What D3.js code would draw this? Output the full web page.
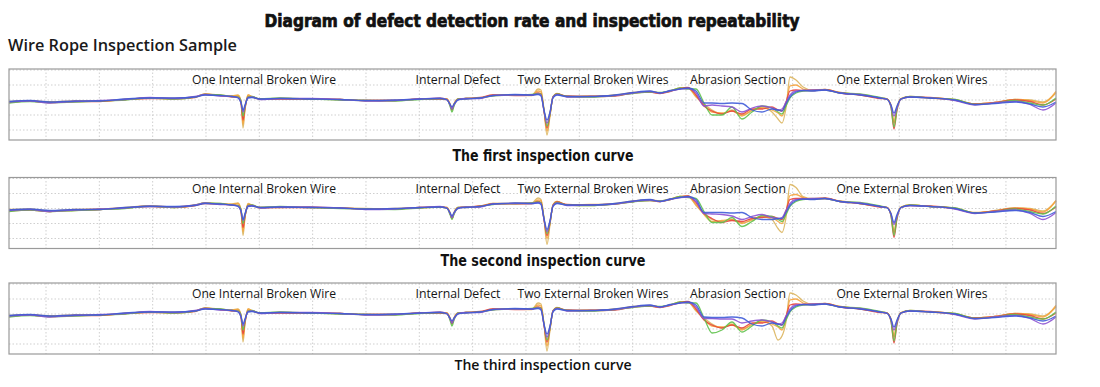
<!DOCTYPE html>
<html>
<head>
<meta charset="utf-8">
<script src="https://cdn.jsdelivr.net/npm/d3@7"></script>
<style>
  body { margin: 0; background: #fff; }
  svg { display: block; }
  .grid line { stroke: #cfcfcf; stroke-width: 1; stroke-dasharray: 1.5,2; }
  .frame { fill: none; stroke: #9a9a9a; stroke-width: 1.2; }
  .curve { fill: none; stroke-width: 1.3; stroke-linejoin: round; stroke-opacity: 0.9; }
  .defect { font-family: "Open Sans", sans-serif; font-size: 13.5px; font-weight: 500; fill: #151515; }
</style>
</head>
<body>
<svg></svg>
<script>

// DATA

// sample positions along the rope (same for every run)
let positions = [
  0, 21, 41, 66, 91, 116, 141, 166, 186, 196,
  211, 223, 229, 232, 234, 236, 239, 243, 251, 271,
  301, 331, 356, 386, 411, 431, 438, 441, 443, 445,
  449, 457, 471, 484, 506, 523, 529, 532, 535, 538,
  541, 544, 548, 558, 581, 606, 624, 641, 651, 661,
  671, 679, 687, 695, 703, 713, 723, 733, 743, 753,
  763, 769, 773, 777, 781, 787, 794, 803, 816, 831,
  851, 871, 878, 882, 885, 888, 892, 901, 921, 946,
  966, 986, 1006, 1021, 1034, 1047
];

// sensor channels, drawn in this order (last one on top)
let channelNames = ["tan", "orange", "red", "green", "purple", "blue"];
let channelColors = ["#dcb55e", "#f5a33c", "#e8423c", "#5fc24c", "#8c52d2", "#3f5cd8"];

let defectNames = ["One Internal Broken Wire", "Internal Defect", "Two External Broken Wires", "Abrasion Section", "One External Broken Wires"];
let defectCenters = [255, 449, 584, 729, 903];
let defectWidths = [144, 85, 151, 96, 151];

let runNames = ["The first inspection curve", "The second inspection curve", "The third inspection curve"];

let yTicks = [-3, -1.5, 0, 1.5, 3];

// first inspection, one row per channel (tan, orange, red, green, purple, blue)
let firstRun = [
  [-0.15,-0.1,-0.25,-0.15,-0.1,0.05,0.2,0.15,0.3,0.6,
   0.5,0.4,0.5,-0.1,-2.8,-1.0,0.5,0.3,0.1,0.15,
   0.1,0.05,-0.05,-0.05,0.1,0.15,0.1,-0.4,-0.9,-0.4,
   0.1,0.15,0.2,0.45,0.5,0.5,1.1,1.0,-1.0,-3.5,
   -1.6,0.35,0.6,0.35,0.35,0.5,0.7,0.85,0.7,0.9,
   1.15,1.2,0.3,-0.4,-1.0,-1.4,-1.0,-1.5,-1.1,-0.7,
   -1.2,-1.9,-2.3,-0.8,2.3,2.0,1.3,1.0,1.05,0.75,
   0.55,0.2,0.1,-0.5,-2.1,-0.7,0.15,0.3,0.2,0.05,
   -0.4,-0.25,0.05,0.0,-0.2,0.7],
  [-0.2,-0.1,-0.2,-0.1,-0.1,0.05,0.2,0.1,0.3,0.6,
   0.45,0.4,0.45,-0.2,-2.4,-0.8,0.5,0.35,0.1,0.15,
   0.1,0.05,-0.05,-0.05,0.1,0.15,0.1,-0.4,-1.0,-0.4,
   0.1,0.15,0.2,0.5,0.5,0.45,0.9,0.8,-1.0,-3.1,
   -1.5,0.3,0.65,0.35,0.4,0.45,0.75,0.8,0.7,0.9,
   1.2,1.2,0.4,-0.5,-1.2,-1.3,-1.1,-1.6,-1.0,-0.8,
   -1.0,-1.3,-1.6,-0.5,1.4,1.5,1.1,0.95,1.0,0.75,
   0.5,0.2,0.1,-0.5,-2.3,-0.8,0.15,0.35,0.2,0.0,
   -0.4,-0.25,0.05,-0.05,-0.3,0.85],
  [-0.25,-0.1,-0.25,-0.15,-0.15,0.05,0.15,0.15,0.25,0.55,
   0.45,0.3,0.3,-0.3,-2.0,-0.8,0.3,0.3,0.1,0.1,
   0.1,0.05,-0.05,-0.05,0.1,0.1,0.05,-0.5,-1.0,-0.5,
   0.05,0.15,0.25,0.5,0.45,0.5,0.7,0.6,-1.1,-2.8,
   -1.4,0.3,0.6,0.4,0.35,0.4,0.7,0.8,0.65,0.85,
   1.15,1.25,0.5,-0.6,-1.1,-1.4,-1.1,-1.4,-0.9,-0.9,
   -0.7,-1.0,-1.1,-0.2,0.9,1.0,0.95,0.95,1.05,0.7,
   0.5,0.15,0.1,-0.7,-2.9,-1.0,0.1,0.3,0.25,0.0,
   -0.4,-0.25,0.0,-0.15,-0.5,0.1],
  [-0.3,-0.15,-0.25,-0.2,-0.1,0.0,0.2,0.1,0.3,0.55,
   0.5,0.35,0.3,-0.1,-1.6,-0.7,0.3,0.35,0.1,0.2,
   0.1,0.0,-0.05,-0.1,0.05,0.15,0.05,-0.6,-1.2,-0.6,
   0.1,0.15,0.2,0.4,0.5,0.55,0.65,0.6,-1.0,-2.6,
   -1.4,0.3,0.6,0.35,0.3,0.45,0.65,0.8,0.75,0.9,
   1.2,1.1,1.1,-0.3,-1.5,-1.5,-0.7,-1.9,-1.2,-0.6,
   -0.8,-1.2,-1.4,-0.6,0.2,0.7,0.9,0.95,1.0,0.7,
   0.6,0.25,0.1,-0.7,-2.7,-0.9,0.1,0.35,0.2,0.05,
   -0.45,-0.3,-0.05,-0.3,-0.5,0.2],
  [-0.2,-0.1,-0.3,-0.15,-0.05,0.05,0.25,0.15,0.35,0.55,
   0.4,0.35,0.25,-0.2,-1.2,-0.6,0.25,0.3,0.05,0.15,
   0.15,0.05,-0.1,-0.05,0.1,0.2,0.05,-0.5,-0.9,-0.5,
   0.05,0.15,0.15,0.45,0.5,0.5,0.6,0.5,-1.1,-2.3,
   -1.3,0.3,0.55,0.3,0.35,0.45,0.7,0.85,0.7,0.9,
   1.1,1.15,0.7,-0.6,-0.5,-0.6,-0.7,-1.2,-0.8,-0.6,
   -0.8,-1.0,-0.9,-0.2,0.5,0.9,0.95,1.0,1.0,0.7,
   0.55,0.2,0.1,-0.6,-1.6,-0.8,0.1,0.3,0.2,-0.05,
   -0.5,-0.3,-0.15,-0.45,-1.0,-0.3],
  [-0.15,-0.05,-0.2,-0.1,-0.1,0.1,0.2,0.2,0.3,0.5,
   0.45,0.35,0.2,-0.3,-1.0,-0.5,0.2,0.25,0.1,0.15,
   0.1,0.05,-0.05,0.0,0.1,0.15,0.0,-0.4,-0.7,-0.4,
   0.0,0.1,0.2,0.45,0.55,0.5,0.55,0.4,-1.0,-2.0,
   -1.2,0.2,0.5,0.35,0.35,0.5,0.75,0.9,0.7,0.95,
   1.1,1.2,0.9,-0.3,-0.3,-0.35,-0.3,-0.35,-1.0,-1.2,
   -0.9,-1.0,-1.1,-0.4,0.3,0.8,0.95,0.9,1.0,0.7,
   0.5,0.2,0.05,-0.5,-1.3,-0.6,0.1,0.3,0.2,0.0,
   -0.45,-0.35,-0.2,-0.4,-0.7,-0.2]
];

let secondRun = [
  [-0.1,-0.05,-0.3,-0.2,-0.1,0.1,0.25,0.15,0.35,0.55,
   0.5,0.45,0.55,-0.1,-2.7,-0.9,0.5,0.3,0.05,0.1,
   0.15,0.05,0.0,-0.05,0.05,0.15,0.1,-0.4,-1.0,-0.4,
   0.1,0.1,0.25,0.5,0.45,0.55,1.05,0.9,-1.0,-3.6,
   -1.6,0.4,0.7,0.35,0.3,0.5,0.75,0.85,0.75,0.95,
   1.2,1.25,0.3,-0.5,-1.1,-1.3,-1.1,-1.4,-1.2,-0.8,
   -1.1,-2.0,-2.4,-0.9,2.4,2.1,1.2,1.0,1.0,0.7,
   0.5,0.2,0.1,-0.5,-2.2,-0.8,0.15,0.35,0.2,0.05,
   -0.45,-0.2,0.05,0.0,-0.25,0.75],
  [-0.2,-0.1,-0.25,-0.1,-0.05,0.05,0.25,0.1,0.3,0.55,
   0.45,0.4,0.5,-0.2,-2.3,-0.8,0.45,0.35,0.1,0.15,
   0.1,0.05,-0.05,0.0,0.1,0.15,0.1,-0.45,-1.05,-0.45,
   0.1,0.15,0.2,0.5,0.5,0.5,0.85,0.8,-1.0,-3.0,
   -1.5,0.35,0.7,0.35,0.4,0.45,0.7,0.85,0.7,0.9,
   1.2,1.2,0.4,-0.6,-1.3,-1.2,-1.1,-1.5,-1.1,-0.8,
   -0.9,-1.3,-1.5,-0.4,1.3,1.4,1.1,0.95,1.0,0.75,
   0.5,0.2,0.1,-0.55,-2.4,-0.85,0.15,0.35,0.2,0.0,
   -0.4,-0.25,0.05,-0.05,-0.35,0.8],
  [-0.25,-0.15,-0.3,-0.15,-0.1,0.05,0.2,0.15,0.3,0.5,
   0.45,0.35,0.3,-0.3,-1.9,-0.8,0.3,0.3,0.1,0.1,
   0.1,0.05,-0.05,-0.05,0.1,0.15,0.05,-0.5,-1.0,-0.5,
   0.05,0.15,0.25,0.45,0.5,0.5,0.7,0.6,-1.1,-2.7,
   -1.4,0.3,0.65,0.4,0.35,0.45,0.7,0.8,0.7,0.9,
   1.15,1.25,0.6,-0.5,-1.0,-1.4,-1.2,-1.3,-1.0,-0.9,
   -0.8,-1.0,-1.1,-0.2,0.9,1.0,1.0,0.95,1.05,0.7,
   0.5,0.15,0.1,-0.7,-2.9,-1.0,0.1,0.3,0.25,0.0,
   -0.45,-0.25,0.0,-0.15,-0.5,0.15],
  [-0.3,-0.15,-0.3,-0.2,-0.1,0.0,0.25,0.1,0.35,0.55,
   0.5,0.35,0.3,-0.1,-1.5,-0.7,0.3,0.35,0.1,0.2,
   0.1,0.0,-0.05,-0.1,0.05,0.15,0.05,-0.6,-1.1,-0.6,
   0.1,0.15,0.2,0.4,0.5,0.55,0.65,0.6,-1.0,-2.5,
   -1.4,0.3,0.6,0.35,0.3,0.45,0.65,0.8,0.75,0.9,
   1.2,1.1,1.0,-0.3,-1.4,-1.4,-0.9,-1.8,-1.3,-0.7,
   -0.8,-1.1,-1.3,-0.6,0.2,0.7,0.9,0.95,1.0,0.7,
   0.6,0.25,0.1,-0.7,-2.7,-0.9,0.1,0.35,0.2,0.05,
   -0.45,-0.3,-0.05,-0.3,-0.55,0.25],
  [-0.2,-0.1,-0.3,-0.15,-0.05,0.05,0.25,0.15,0.35,0.55,
   0.4,0.35,0.25,-0.2,-1.2,-0.6,0.25,0.3,0.05,0.15,
   0.15,0.05,-0.1,-0.05,0.1,0.2,0.05,-0.5,-0.9,-0.5,
   0.05,0.15,0.15,0.45,0.5,0.5,0.6,0.5,-1.1,-2.3,
   -1.3,0.3,0.55,0.3,0.35,0.45,0.7,0.85,0.7,0.9,
   1.1,1.15,0.7,-0.5,-0.55,-0.6,-0.75,-1.1,-0.8,-0.6,
   -0.9,-1.0,-0.9,-0.2,0.5,0.9,0.95,1.0,1.0,0.7,
   0.55,0.2,0.1,-0.6,-1.6,-0.8,0.1,0.3,0.2,-0.05,
   -0.5,-0.3,-0.15,-0.5,-1.1,-0.4],
  [-0.15,-0.05,-0.2,-0.1,-0.1,0.1,0.2,0.2,0.3,0.5,
   0.45,0.35,0.2,-0.25,-1.1,-0.5,0.2,0.25,0.1,0.15,
   0.1,0.05,-0.05,0.0,0.1,0.15,0.0,-0.4,-0.75,-0.4,
   0.0,0.1,0.2,0.45,0.55,0.5,0.55,0.4,-1.0,-2.1,
   -1.2,0.2,0.5,0.35,0.35,0.5,0.75,0.9,0.7,0.95,
   1.1,1.2,0.9,-0.4,-0.4,-0.4,-0.45,-0.4,-0.9,-1.1,
   -1.1,-1.0,-1.0,-0.4,0.3,0.8,0.95,0.9,1.0,0.7,
   0.5,0.2,0.05,-0.5,-1.4,-0.6,0.1,0.3,0.2,0.0,
   -0.45,-0.35,-0.2,-0.4,-0.8,-0.3]
];

let thirdRun = [
  [-0.15,-0.1,-0.25,-0.15,-0.1,0.05,0.2,0.15,0.3,0.6,
   0.5,0.4,0.5,-0.1,-2.8,-1.0,0.5,0.3,0.1,0.15,
   0.1,0.05,-0.05,-0.05,0.1,0.15,0.1,-0.4,-0.9,-0.4,
   0.1,0.15,0.2,0.45,0.5,0.5,1.1,1.0,-1.0,-3.7,
   -1.6,0.35,0.6,0.35,0.35,0.5,0.7,0.85,0.7,0.9,
   1.15,1.2,0.3,-0.4,-1.0,-1.4,-1.0,-1.5,-1.1,-0.7,
   -1.2,-2.6,-2.2,-0.8,2.1,1.9,1.3,1.0,1.05,0.75,
   0.55,0.2,0.1,-0.5,-2.1,-0.7,0.15,0.3,0.2,0.05,
   -0.4,-0.25,0.05,0.0,-0.2,0.7],
  [-0.2,-0.1,-0.2,-0.1,-0.1,0.05,0.2,0.1,0.3,0.6,
   0.45,0.4,0.45,-0.2,-2.4,-0.8,0.5,0.35,0.1,0.15,
   0.1,0.05,-0.05,-0.05,0.1,0.15,0.1,-0.4,-1.0,-0.4,
   0.1,0.15,0.2,0.5,0.5,0.45,0.9,0.8,-1.0,-3.2,
   -1.5,0.3,0.65,0.35,0.4,0.45,0.75,0.8,0.7,0.9,
   1.2,1.2,0.4,-0.5,-1.2,-1.3,-1.1,-1.6,-1.0,-0.8,
   -1.0,-1.3,-1.6,-0.5,1.4,1.5,1.1,0.95,1.0,0.75,
   0.5,0.2,0.1,-0.5,-2.3,-0.8,0.15,0.35,0.2,0.0,
   -0.4,-0.25,0.05,-0.05,-0.3,0.85],
  [-0.25,-0.1,-0.25,-0.15,-0.15,0.05,0.15,0.15,0.25,0.55,
   0.45,0.3,0.3,-0.3,-2.0,-0.8,0.3,0.3,0.1,0.1,
   0.1,0.05,-0.05,-0.05,0.1,0.1,0.05,-0.5,-1.0,-0.5,
   0.05,0.15,0.25,0.5,0.45,0.5,0.7,0.6,-1.1,-2.8,
   -1.4,0.3,0.6,0.4,0.35,0.4,0.7,0.8,0.65,0.85,
   1.15,1.25,0.5,-0.6,-1.1,-1.4,-1.1,-1.4,-0.9,-0.9,
   -0.7,-1.0,-1.1,-0.2,0.9,1.0,0.95,0.95,1.05,0.7,
   0.5,0.15,0.1,-0.7,-2.9,-1.0,0.1,0.3,0.25,0.0,
   -0.4,-0.25,0.0,-0.15,-0.5,0.1],
  [-0.3,-0.15,-0.25,-0.2,-0.1,0.0,0.2,0.1,0.3,0.55,
   0.5,0.35,0.3,-0.1,-1.6,-0.7,0.3,0.35,0.1,0.2,
   0.1,0.0,-0.05,-0.1,0.05,0.15,0.05,-0.6,-1.2,-0.6,
   0.1,0.15,0.2,0.4,0.5,0.55,0.65,0.6,-1.0,-2.6,
   -1.4,0.3,0.6,0.35,0.3,0.45,0.65,0.8,0.75,0.9,
   1.2,1.1,1.1,-0.4,-1.9,-1.6,-0.8,-1.8,-1.2,-0.6,
   -0.8,-1.2,-1.4,-0.6,0.2,0.7,0.9,0.95,1.0,0.7,
   0.6,0.25,0.1,-0.7,-2.7,-0.9,0.1,0.35,0.2,0.05,
   -0.45,-0.3,-0.05,-0.3,-0.5,0.2],
  [-0.2,-0.1,-0.3,-0.15,-0.05,0.05,0.25,0.15,0.35,0.55,
   0.4,0.35,0.25,-0.2,-1.2,-0.6,0.25,0.3,0.05,0.15,
   0.15,0.05,-0.1,-0.05,0.1,0.2,0.05,-0.5,-0.9,-0.5,
   0.05,0.15,0.15,0.45,0.5,0.5,0.6,0.5,-1.1,-2.3,
   -1.3,0.3,0.55,0.3,0.35,0.45,0.7,0.85,0.7,0.9,
   1.1,1.15,0.7,-0.45,-0.45,-0.5,-0.5,-0.9,-0.7,-0.6,
   -0.8,-1.0,-0.9,-0.2,0.5,0.9,0.95,1.0,1.0,0.7,
   0.55,0.2,0.1,-0.6,-1.6,-0.8,0.1,0.3,0.2,-0.05,
   -0.5,-0.3,-0.15,-0.45,-1.0,-0.3],
  [-0.15,-0.05,-0.2,-0.1,-0.1,0.1,0.2,0.2,0.3,0.5,
   0.45,0.35,0.2,-0.3,-1.0,-0.5,0.2,0.25,0.1,0.15,
   0.1,0.05,-0.05,0.0,0.1,0.15,0.0,-0.4,-0.7,-0.4,
   0.0,0.1,0.2,0.45,0.55,0.5,0.55,0.4,-1.0,-2.0,
   -1.2,0.2,0.5,0.35,0.35,0.5,0.75,0.9,0.7,0.95,
   1.1,1.2,0.9,-0.3,-0.35,-0.35,-0.3,-0.4,-1.0,-1.2,
   -0.9,-1.0,-1.1,-0.4,0.3,0.8,0.95,0.9,1.0,0.7,
   0.5,0.2,0.05,-0.5,-1.3,-0.6,0.1,0.3,0.2,0.0,
   -0.45,-0.35,-0.2,-0.4,-0.7,-0.2]
];

let runs = [firstRun, secondRun, thirdRun];

// PAGE SETUP

let width = 1100, height = 387;
let panelLeft = 9, panelRight = 1056, panelHeight = 71;
let panelTops = [69, 177.5, 283];
let captionY = [161, 266, 370];
let captionX = 543;

let svg = d3.select("svg")
  .attr("width", width)
  .attr("height", height);

let x = d3.scaleLinear()
  .domain([0, 1047])
  .range([panelLeft, panelRight]);

// vertical grid lines every 53.33 units starting at 37
let xGrid = d3.range(19).map(i => 37 + i * 53.33);

// TITLES

svg.append("text")
  .attr("x", 532)
  .attr("y", 27)
  .attr("text-anchor", "middle")
  .attr("textLength", 535)
  .attr("lengthAdjust", "spacingAndGlyphs")
  .style("font-family", "'Liberation Sans Narrow', 'DejaVu Sans Condensed', sans-serif")
  .style("font-weight", 900)
  .style("font-size", "18px")
  .style("fill", "#111")
  .style("stroke", "#111")
  .style("stroke-width", 0.7)
  .text("Diagram of defect detection rate and inspection repeatability");

svg.append("text")
  .attr("x", 8)
  .attr("y", 51)
  .attr("textLength", 229)
  .attr("lengthAdjust", "spacingAndGlyphs")
  .style("font-family", "'Open Sans', sans-serif")
  .style("font-weight", 600)
  .style("font-size", "16.5px")
  .style("fill", "#1a1a1a")
  .text("Wire Rope Inspection Sample");

// PANELS

runs.forEach(function(run, r){
  let top = panelTops[r];
  let y = d3.scaleLinear()
    .domain([-4, 3.1])
    .range([top + panelHeight, top]);

  let g = svg.append("g").attr("class", "panel");

  let grid = g.append("g").attr("class", "grid");
  grid.selectAll(".vgrid")
    .data(xGrid)
    .enter()
    .append("line")
    .attr("x1", d => x(d)).attr("x2", d => x(d))
    .attr("y1", top).attr("y2", top + panelHeight);
  grid.selectAll(".hgrid")
    .data(yTicks)
    .enter()
    .append("line")
    .attr("x1", panelLeft).attr("x2", panelRight)
    .attr("y1", d => y(d)).attr("y2", d => y(d));

  let line = d3.line()
    .x((d, i) => x(positions[i]))
    .y(d => y(d))
    .curve(d3.curveMonotoneX);

  g.selectAll(".curve")
    .data(run)
    .enter()
    .append("path")
    .attr("class", "curve")
    .attr("stroke", (d, i) => channelColors[i])
    .attr("d", line);

  g.append("rect")
    .attr("class", "frame")
    .attr("x", panelLeft)
    .attr("y", top)
    .attr("width", panelRight - panelLeft)
    .attr("height", panelHeight);

  g.selectAll(".defect")
    .data(defectNames)
    .enter()
    .append("text")
    .attr("class", "defect")
    .attr("x", (d, i) => x(defectCenters[i]))
    .attr("y", top + 15)
    .attr("text-anchor", "middle")
    .attr("textLength", (d, i) => defectWidths[i])
    .attr("lengthAdjust", "spacingAndGlyphs")
    .text(d => d);

  // caption under each panel
  let caption = svg.append("text")
    .attr("x", captionX)
    .attr("y", captionY[r])
    .attr("text-anchor", "middle")
    .attr("lengthAdjust", "spacingAndGlyphs")
    .style("fill", "#111")
    .text(runNames[r]);

  if (r < 2){
    caption
      .attr("textLength", r == 0 ? 181 : 205)
      .style("font-family", "'Liberation Sans Narrow', 'DejaVu Sans Condensed', sans-serif")
      .style("font-weight", "bold")
      .style("font-size", "16px");
  }
  else {
    caption
      .attr("textLength", 177)
      .style("font-family", "'Open Sans', sans-serif")
      .style("font-weight", 600)
      .style("font-size", "14.5px");
  }
});

</script>
</body>
</html>
